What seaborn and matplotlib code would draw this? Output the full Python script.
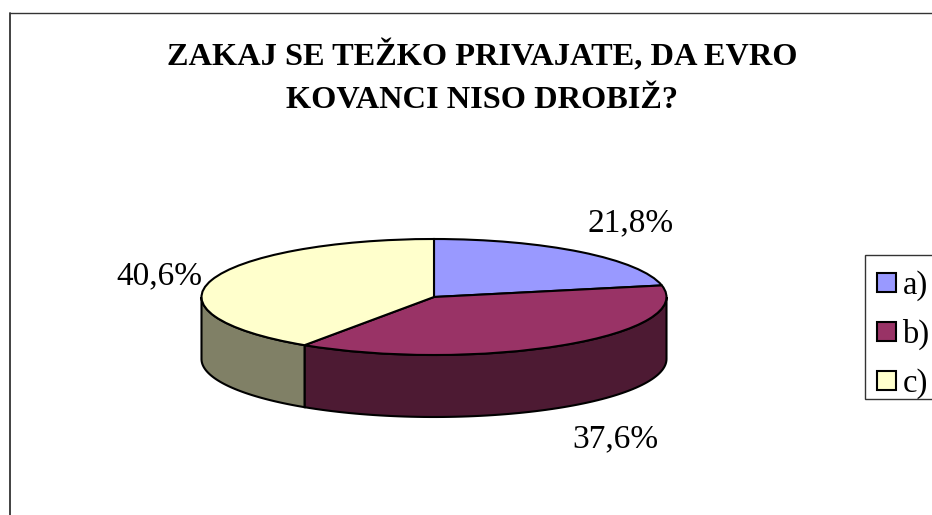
import matplotlib
matplotlib.use('Agg')
import matplotlib.pyplot as plt
from matplotlib.lines import Line2D
from matplotlib.patches import Rectangle
import numpy as np
import seaborn as sns

title = 'ZAKAJ SE TEŽKO PRIVAJATE, DA EVRO\nKOVANCI NISO DROBIŽ?'
categories = ['a)', 'b)', 'c)']
values = [21.8, 37.6, 40.6]
top_colors = ['#9999FF', '#993366', '#FFFFCC']
side_colors = ['#4D4D80', '#4D1A33', '#808066']

W, H = 932, 515

sns.set_theme(style='white')
plt.rcParams['font.family'] = ['Liberation Serif', 'DejaVu Serif']


def fx(x):
    return x / W


def fy(y):
    return 1 - y / H


fig = plt.figure(figsize=(W / 100, H / 100), dpi=100, facecolor='white')

# outer frame, only left and top fall inside the picture
fig.add_artist(Line2D([fx(10), fx(10)], [0, fy(13)], color='#333333', lw=1.3))
fig.add_artist(Line2D([fx(10), 1], [fy(13), fy(13)], color='#333333', lw=1.0))

# pie sits in an axes stretched to the ellipse, so radius 1 is rx / ry
rx, ry, depth = 232.5, 58, 62
cx, cy = 434, 297
ax = fig.add_axes([fx(cx - rx), fy(cy + ry + depth), 2 * rx / W, (2 * ry + depth) / H])

d = depth / ry
edges = np.cumsum([0] + values) / 100 * 360
for i in range(len(values)):
    a0, a1 = max(edges[i], 90), min(edges[i + 1], 270)
    if a1 <= a0:
        continue
    t = np.radians(np.linspace(a0, a1, 80))
    xs = np.r_[np.sin(t), np.sin(t)[::-1]]
    ys = np.r_[np.cos(t), np.cos(t)[::-1] - d]
    ax.fill(xs, ys, facecolor=side_colors[i], edgecolor='black', lw=1.5, clip_on=False)

wedges, _ = ax.pie(values, colors=top_colors, startangle=90, counterclock=False,
                   wedgeprops={'edgecolor': 'black', 'linewidth': 1.5, 'clip_on': False})
ax.set_aspect('auto')
ax.set_xlim(-1, 1)
ax.set_ylim(-1 - d, 1)

fig.text(fx(482), fy(78), title, ha='center', va='center', fontsize=23.3, fontweight='bold',
         color='black', linespacing=1.62)

label_pos = [(631, 223), (615, 439), (159, 276)]
for v, (x, y) in zip(values, label_pos):
    fig.text(fx(x), fy(y), f'{v:.1f}%'.replace('.', ','), ha='center', va='center',
             fontsize=24, color='black')

# legend box runs off the right edge, so it is drawn apart from the entries
fig.add_artist(Rectangle((fx(865), fy(399)), 1, 144 / H, transform=fig.transFigure,
                         facecolor='white', edgecolor='#333333', lw=1.0))
leg = fig.legend(wedges, categories, loc='upper left', bbox_to_anchor=(fx(866), fy(259)),
                 fontsize=23.5, frameon=False, borderpad=0.35, borderaxespad=0, labelcolor='black',
                 labelspacing=0.55, handlelength=0.57, handleheight=0.53, handletextpad=0.2)
leg.set_zorder(5)

fig.savefig('out.png', dpi=100)
